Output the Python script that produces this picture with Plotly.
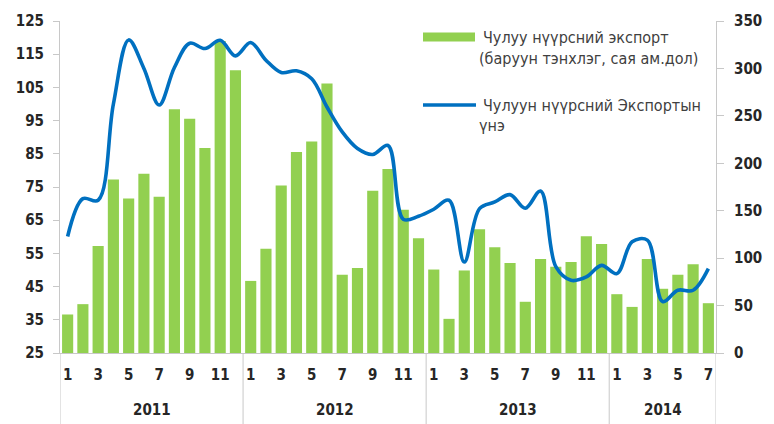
import plotly.graph_objects as go

years = ["2011", "2012", "2013", "2014"]
months_per_year = [12, 12, 12, 7]

# Coal export, million USD (right axis)
export_values = [40.6, 51.5, 112.8, 183, 163, 189, 164.6, 257, 247, 216, 329, 298,
                 76, 110, 176.6, 212, 223, 284, 82.5, 89.6, 171, 194, 151, 121,
                 88, 36, 87, 130.5, 111.4, 94.8, 54, 99, 91, 96, 123, 115,
                 62, 48.6, 99, 67.7, 82.5, 93.5, 52.5]

# Coal export price (left axis)
price_values = [60.1, 71.5, 71.0, 100, 119.3, 110.7, 99.7, 111, 118.3, 116.7, 119.2, 114.5,
                118.5, 113.2, 109.5, 110, 107.6, 99.1, 91.6, 86.6, 84.8, 87.5, 65.3, 66.2,
                68.3, 71, 52.4, 68.5, 70.5, 72.7, 68.6, 73.8, 51, 46.9, 47.9, 51.4, 48.9,
                58.5, 59, 40.5, 43.9, 43.9, 50.4]

left_ticks = [25, 35, 45, 55, 65, 75, 85, 95, 105, 115, 125]
right_ticks = [0, 50, 100, 150, 200, 250, 300, 350]

legend_bar = ["Чулуу нүүрсний экспорт", "(баруун тэнхлэг, сая ам.дол)"]
legend_line = ["Чулуун нүүрсний Экспортын", "үнэ"]

# build month index
month_labels = []
for n in months_per_year:
    month_labels += [str(m) for m in range(1, n + 1)]
x_idx = list(range(len(month_labels)))
tickvals = [i for i, m in zip(x_idx, month_labels) if int(m) % 2 == 1]
ticktext = [m for m in month_labels if int(m) % 2 == 1]

# page has an 8px body margin: figure is placed at (8, 8) in the 774x424 window
OFF = 8
W, H = 774 - OFF, 424 - OFF
L, R, T, B = 52, 58, 13, 71
pw, ph = W - L - R, H - T - B

def px(x):  # page pixel -> paper
    return (x - OFF - L) / pw

def py(y):  # page pixel -> paper
    return (H - B - (y - OFF)) / ph

FONT = "Liberation Sans Narrow, DejaVu Sans Condensed, Liberation Sans, Arial, sans-serif"
tickfont = dict(family=FONT, size=15, color="#262626", weight="bold")
axcol = "#c8c8c8"

fig = go.Figure()
fig.add_trace(go.Bar(x=x_idx, y=export_values, marker_color="#92D050",
                     marker_line_width=0, name=legend_bar[0], yaxis="y"))
fig.add_trace(go.Scatter(x=x_idx, y=price_values, mode="lines",
                         line=dict(color="#0070C0", width=3.6, shape="spline", smoothing=1.0),
                         name=legend_line[0], yaxis="y2"))

shapes = []
# year separators
bounds = [-0.5]
acc = -0.5
for n in months_per_year:
    acc += n
    bounds.append(acc)
for b in bounds:
    shapes.append(dict(type="line", xref="x", yref="paper", x0=b, x1=b,
                       y0=0, y1=py(424), line=dict(color=axcol, width=1)))
# legend symbols
shapes.append(dict(type="rect", xref="paper", yref="paper", x0=px(423), x1=px(475),
                   y0=py(41.5), y1=py(32.5), fillcolor="#92D050", line=dict(width=0)))
shapes.append(dict(type="line", xref="paper", yref="paper", x0=px(423), x1=px(476),
                   y0=py(105), y1=py(105), line=dict(color="#0070C0", width=3.6)))

annotations = []
start = 0
for yr, n in zip(years, months_per_year):
    annotations.append(dict(x=start + (n - 1) / 2, y=py(410), xref="x", yref="paper",
                            text=yr, showarrow=False, xanchor="center", yanchor="middle",
                            font=tickfont))
    start += n

legfont = dict(family=FONT, size=16, color="#404040")
for txt, xx, yy in [(legend_bar[0], 481, 38), (legend_bar[1], 477, 59),
                    (legend_line[0], 481, 105), (legend_line[1], 477, 125)]:
    annotations.append(dict(x=px(xx), y=py(yy), xref="paper", yref="paper", text=txt,
                            showarrow=False, xanchor="left", yanchor="middle", font=legfont))

fig.update_layout(
    width=W, height=H,
    margin=dict(l=L, r=R, t=T, b=B, autoexpand=False),
    paper_bgcolor="white", plot_bgcolor="white",
    showlegend=False,
    bargap=0.27,
    shapes=shapes,
    annotations=annotations,
    xaxis=dict(range=[-0.5, len(x_idx) - 0.5], tickvals=tickvals, ticktext=ticktext,
               tickfont=tickfont, showline=True, linecolor=axcol, linewidth=1,
               ticks="", ticklabelstandoff=8, showgrid=False, zeroline=False,
               automargin=False),
    yaxis=dict(side="right", range=[0, 350], tickvals=right_ticks, tickfont=tickfont,
               showline=True, linecolor=axcol, linewidth=1, ticks="outside", ticklen=7,
               tickcolor=axcol, ticklabelstandoff=7, showgrid=False, zeroline=False,
               automargin=False),
    yaxis2=dict(side="left", overlaying="y", range=[25, 125], tickvals=left_ticks,
                tickfont=tickfont, showline=True, linecolor=axcol, linewidth=1,
                ticks="outside", ticklen=6, tickcolor=axcol, ticklabelstandoff=6,
                showgrid=False, zeroline=False, automargin=False),
)

fig.write_html("out.html")
